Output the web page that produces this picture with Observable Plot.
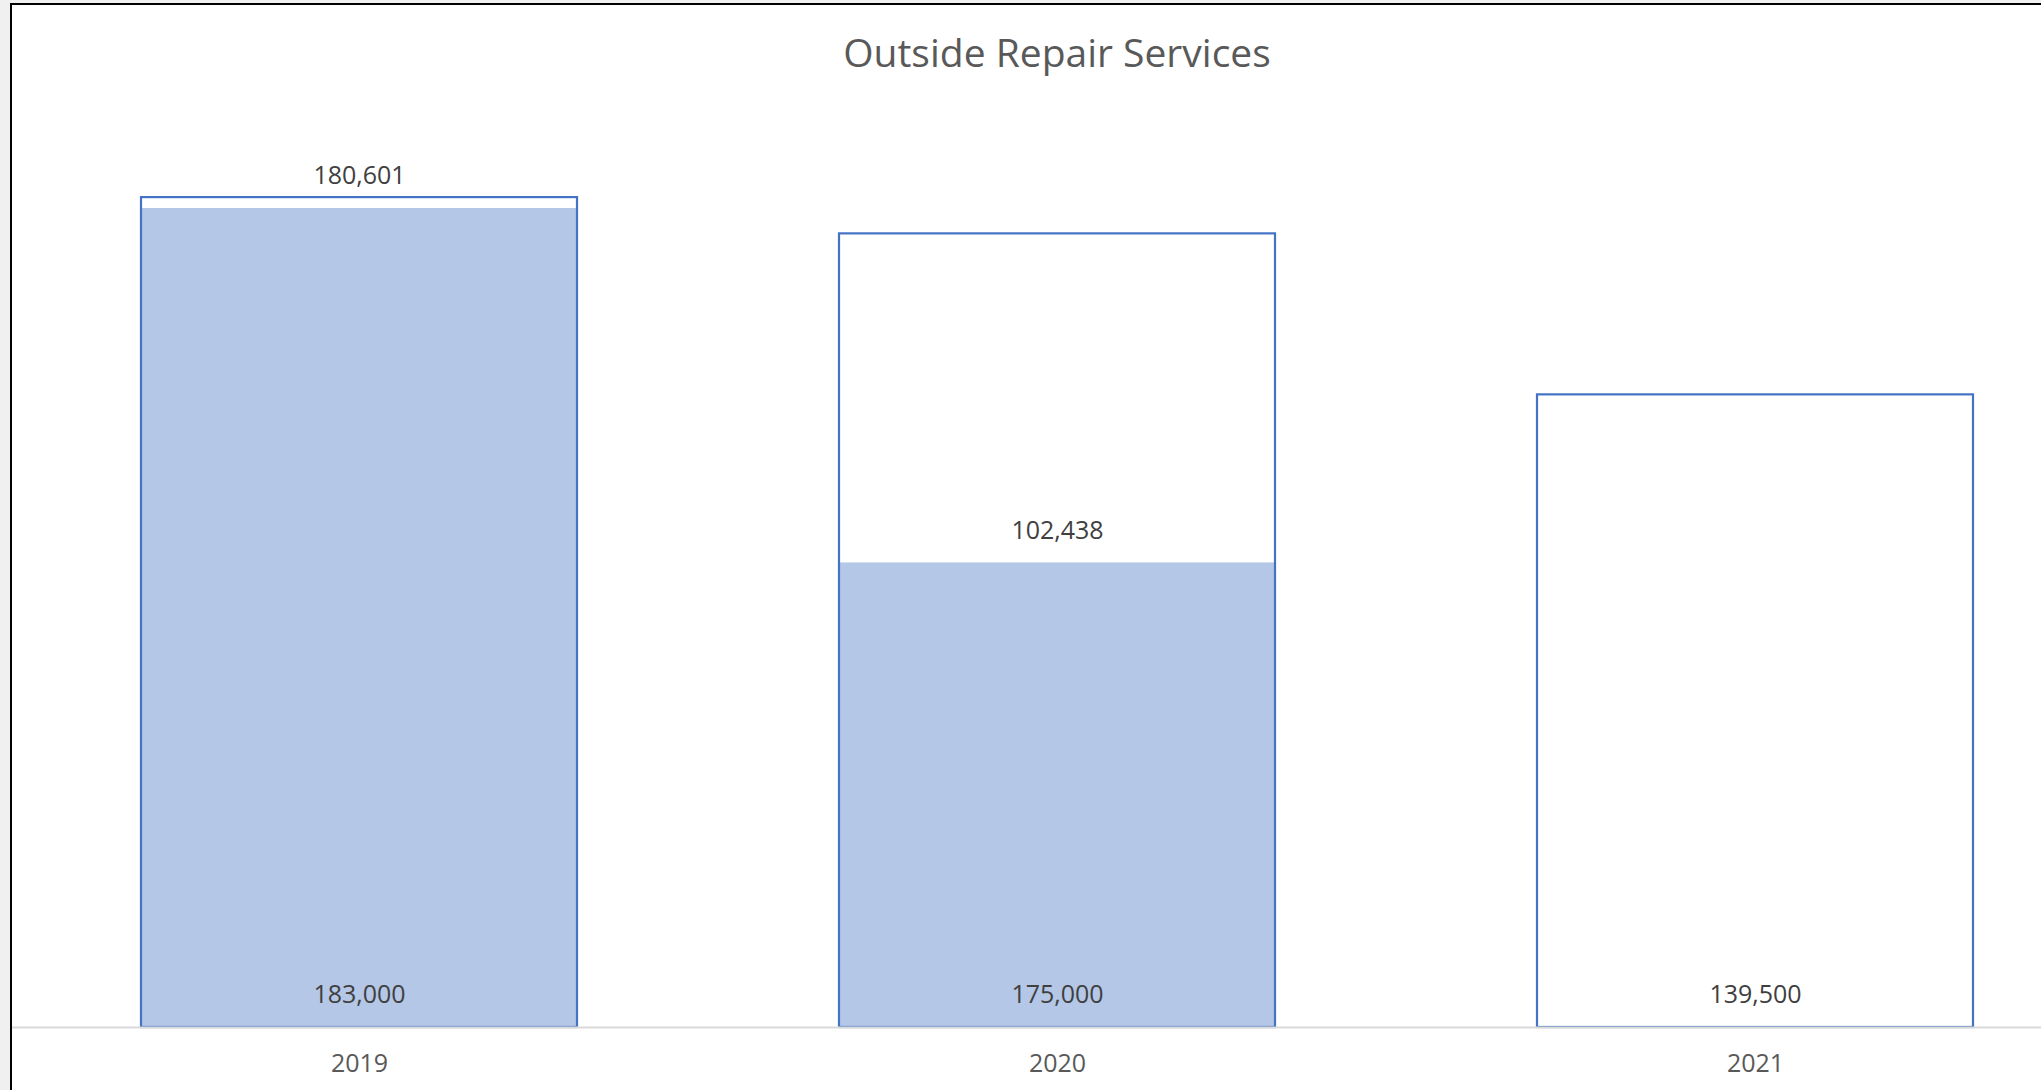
<!DOCTYPE html>
<html>
<head>
<meta charset="utf-8">
<script src="https://cdn.jsdelivr.net/npm/d3@7"></script>
<script src="https://cdn.jsdelivr.net/npm/@observablehq/plot@0.6"></script>
<style>
  html, body { margin: 0; padding: 0; background: #f0f0f0; width: 2041px; height: 1090px; overflow: hidden; }
  #frame {
    position: absolute; left: 10px; top: 3px;
    width: 2031px; height: 1087px;
    box-sizing: border-box;
    border-left: 2px solid #000; border-top: 2px solid #000;
    background: #fff; overflow: hidden;
  }
  #frame svg { display: block; }
</style>
</head>
<body>
<div id="frame"></div>
<script>
const title = "Outside Repair Services";
const years = ["2019", "2020", "2021"];
const budget = [183000, 175000, 139500];
const actual = [180601, 102438, null];

const budgetData = years.map((y, i) => ({year: y, value: budget[i]}));
const actualData = years.map((y, i) => ({year: y, value: actual[i]})).filter(d => d.value != null);
const fmt = d3.format(",");

const W = 2029, H = 1085;
const chart = Plot.plot({
  width: W,
  height: H,
  marginTop: 115,
  marginBottom: 63,
  marginLeft: 0,
  marginRight: 0,
  style: {fontFamily: "'Open Sans', sans-serif", background: "transparent", overflow: "visible"},
  x: {domain: years, range: [-2.5, 2093], paddingInner: 0.375, paddingOuter: 0.1875, axis: null},
  y: {domain: [0, 200000], axis: null},
  marks: [
    Plot.barY(budgetData, {x: "year", y: "value", fill: "#ffffff"}),
    Plot.barY(actualData, {x: "year", y: "value", fill: "#B4C7E7"}),
    Plot.barY(budgetData, {x: "year", y: "value", fill: "none", stroke: "#4472C4", strokeWidth: 2.2}),
    Plot.ruleY([0], {stroke: "#d9d9d9", strokeWidth: 2}),
    Plot.text(actualData, {x: "year", y: "value", text: d => fmt(d.value), dy: -32, lineAnchor: "middle", fontSize: 25, fill: "#404040"}),
    Plot.text(budgetData, {x: "year", y: 0, text: d => fmt(d.value), dy: -33, lineAnchor: "middle", fontSize: 25, fill: "#404040"}),
    Plot.text(years, {x: d => d, frameAnchor: "bottom", dy: 36, lineAnchor: "middle", fontSize: 25, fill: "#595959"}),
    Plot.text([title], {frameAnchor: "top", dx: 30, dy: -66, lineAnchor: "middle", fontSize: 39, fill: "#595959"})
  ]
});
document.getElementById("frame").appendChild(chart);
</script>
</body>
</html>
